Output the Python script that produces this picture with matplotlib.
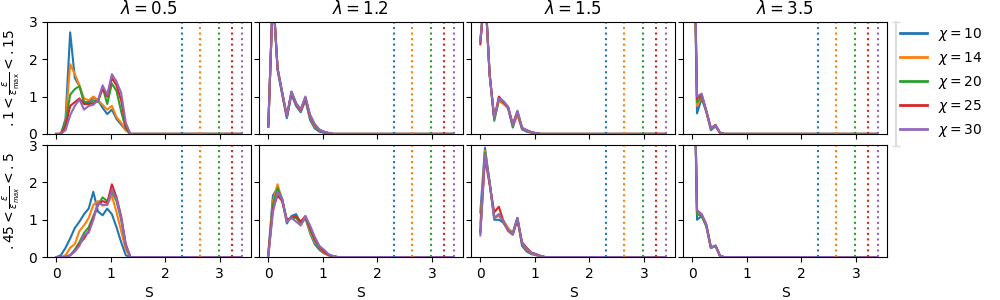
import matplotlib
matplotlib.use("Agg")
import matplotlib.pyplot as plt
import numpy as np
from matplotlib.lines import Line2D

# S bins (0 .. 3.4, step 0.085)
S = np.round(np.arange(41) * 0.085, 3)

lambdas = ["0.5", "1.2", "1.5", "3.5"]
chis = [10, 14, 20, 25, 30]
colors = ["#1f77b4", "#ff7f0e", "#2ca02c", "#d62728", "#9467bd"]
chi_limits = [2.30, 2.64, 2.99, 3.22, 3.40]

# row 1: .1 < eps/eps_max < .15   (one list per chi, leading values; rest is zero)
top_05 = [
    [0, 0, 0.4, 2.72, 1.5, 1.28, 0.85, 0.85, 0.98, 0.9, 0.7, 0.53, 0.65, 0.4, 0.25, 0.1, 0],
    [0, 0, 0.3, 1.87, 1.6, 1.3, 0.95, 0.9, 1.0, 0.9, 0.78, 0.65, 0.75, 0.45, 0.3, 0.1, 0],
    [0, 0, 0.3, 1.05, 1.2, 1.28, 0.85, 0.8, 0.9, 0.85, 1.25, 0.8, 1.35, 1.15, 0.6, 0.15, 0],
    [0, 0, 0.2, 0.75, 0.85, 0.95, 0.8, 0.8, 0.82, 0.9, 1.2, 1.0, 1.5, 1.3, 0.9, 0.2, 0],
    [0, 0, 0.1, 0.5, 0.75, 0.92, 0.65, 0.75, 0.78, 0.9, 1.3, 1.05, 1.6, 1.4, 1.1, 0.3, 0],
]
top_12 = [
    [0.2, 3.8, 1.7, 1.05, 0.42, 1.05, 0.75, 0.58, 0.9, 0.38, 0.15, 0.06, 0.03, 0.01, 0],
    [0.2, 3.8, 1.75, 1.1, 0.45, 1.1, 0.8, 0.62, 0.95, 0.45, 0.2, 0.09, 0.05, 0.02, 0],
    [0.2, 3.8, 1.75, 1.1, 0.48, 1.13, 0.82, 0.65, 0.98, 0.48, 0.24, 0.1, 0.05, 0.02, 0],
    [0.2, 3.8, 1.75, 1.1, 0.46, 1.12, 0.8, 0.64, 0.97, 0.5, 0.25, 0.11, 0.06, 0.02, 0],
    [0.2, 3.8, 1.75, 1.12, 0.47, 1.13, 0.82, 0.66, 1.0, 0.52, 0.27, 0.12, 0.06, 0.03, 0],
]
top_15 = [
    [2.48, 3.9, 1.6, 0.4, 0.9, 0.82, 0.68, 0.17, 0.55, 0.12, 0.06, 0.03, 0.01, 0],
    [2.48, 3.9, 1.6, 0.42, 0.88, 0.8, 0.7, 0.22, 0.5, 0.14, 0.08, 0.04, 0.02, 0],
    [2.48, 3.9, 1.6, 0.35, 0.95, 0.85, 0.7, 0.22, 0.6, 0.15, 0.09, 0.04, 0.02, 0],
    [2.4, 3.9, 1.6, 0.42, 1.0, 0.85, 0.72, 0.25, 0.6, 0.16, 0.1, 0.05, 0.02, 0],
    [2.48, 3.9, 1.6, 0.42, 0.95, 0.88, 0.72, 0.25, 0.62, 0.17, 0.1, 0.05, 0.02, 0],
]
top_35 = [
    [8.0, 0.55, 0.95, 0.6, 0.1, 0.2, 0.02, 0],
    [8.0, 0.75, 1.0, 0.6, 0.12, 0.22, 0.02, 0],
    [8.0, 0.85, 1.0, 0.6, 0.13, 0.22, 0.02, 0],
    [8.0, 0.95, 1.05, 0.62, 0.16, 0.24, 0.02, 0],
    [8.0, 1.0, 1.08, 0.62, 0.15, 0.23, 0.02, 0],
]

# row 2: .45 < eps/eps_max < .5
bot_05 = [
    [0, 0.05, 0.25, 0.5, 0.78, 0.95, 1.15, 1.3, 1.75, 1.22, 1.12, 1.3, 1.15, 0.8, 0.4, 0.05, 0],
    [0, 0, 0.05, 0.25, 0.35, 0.7, 0.85, 1.05, 1.4, 1.5, 1.38, 1.4, 1.65, 1.2, 0.7, 0.2, 0],
    [0, 0, 0, 0.05, 0.2, 0.4, 0.65, 0.8, 1.1, 1.4, 1.6, 1.5, 1.75, 1.5, 1.0, 0.3, 0],
    [0, 0, 0, 0.05, 0.15, 0.35, 0.5, 0.7, 1.05, 1.4, 1.5, 1.45, 1.95, 1.6, 1.1, 0.35, 0],
    [0, 0, 0, 0.05, 0.15, 0.3, 0.6, 0.65, 1.0, 1.45, 1.4, 1.4, 1.8, 1.55, 1.05, 0.3, 0],
]
bot_12 = [
    [0.1, 1.65, 1.85, 1.55, 0.9, 1.1, 1.15, 0.9, 1.05, 0.65, 0.35, 0.2, 0.1, 0.05, 0.02, 0],
    [0.05, 1.5, 1.95, 1.5, 0.95, 1.05, 1.1, 0.85, 1.05, 0.7, 0.4, 0.25, 0.12, 0.05, 0.02, 0],
    [0.05, 1.4, 1.85, 1.55, 1.0, 1.05, 1.05, 0.9, 1.05, 0.75, 0.45, 0.25, 0.15, 0.06, 0.02, 0],
    [0.05, 1.3, 1.65, 1.5, 1.0, 1.05, 1.1, 0.95, 1.1, 0.8, 0.5, 0.3, 0.15, 0.06, 0.02, 0],
    [0.02, 1.2, 1.75, 1.55, 0.95, 1.05, 0.95, 0.85, 1.1, 0.85, 0.55, 0.3, 0.2, 0.08, 0.03, 0],
]
bot_15 = [
    [1.2, 2.93, 2.0, 1.0, 1.0, 0.92, 0.72, 0.62, 1.05, 0.3, 0.15, 0.08, 0.05, 0.02, 0],
    [0.9, 2.85, 2.0, 1.05, 1.1, 0.98, 0.78, 0.65, 1.0, 0.35, 0.2, 0.1, 0.06, 0.03, 0],
    [0.7, 2.8, 2.0, 1.05, 1.15, 0.92, 0.72, 0.65, 1.05, 0.35, 0.22, 0.12, 0.08, 0.03, 0],
    [0.65, 2.65, 1.95, 1.2, 1.35, 0.95, 0.7, 0.6, 1.0, 0.4, 0.25, 0.12, 0.08, 0.03, 0],
    [0.58, 2.75, 2.0, 1.05, 1.15, 0.95, 0.72, 0.62, 1.05, 0.38, 0.22, 0.12, 0.07, 0.03, 0],
]
bot_35 = [
    [8.0, 1.0, 1.1, 0.85, 0.25, 0.3, 0.02, 0],
    [8.0, 1.2, 1.12, 0.85, 0.25, 0.3, 0.02, 0],
    [8.0, 1.15, 1.1, 0.82, 0.24, 0.3, 0.02, 0],
    [8.0, 1.25, 1.15, 0.88, 0.26, 0.31, 0.02, 0],
    [8.0, 1.25, 1.15, 0.85, 0.25, 0.3, 0.02, 0],
]

rows = [[top_05, top_12, top_15, top_35], [bot_05, bot_12, bot_15, bot_35]]
row_labels = [r"$.1 < \frac{\varepsilon}{\varepsilon_\mathrm{max}} < .15$",
              r"$.45 < \frac{\varepsilon}{\varepsilon_{max}} < .5$"]


def pad(vals):
    out = np.zeros(len(S))
    out[:len(vals)] = vals
    return out


fig, axes = plt.subplots(2, 4, figsize=(10, 3), dpi=100, sharex=True, sharey=True)
fig.subplots_adjust(left=0.047, right=0.887, top=0.927, bottom=0.143, wspace=0.04, hspace=0.1)

for r, row in enumerate(rows):
    for c, panel in enumerate(row):
        ax = axes[r, c]
        for series, col in zip(panel, colors):
            ax.plot(S, pad(series), color=col, lw=1.5)
        for lim, col in zip(chi_limits, colors):
            ax.axvline(lim, color=col, ls=":", lw=1.5)
        ax.set_ylim(0, 3)
        ax.set_yticks([0, 1, 2, 3])
        ax.set_xticks([0, 1, 2, 3])
        if r == 0:
            ax.set_title(r"$\lambda = %s$" % lambdas[c])
        else:
            ax.set_xlabel("S")
    axes[r, 0].set_ylabel(row_labels[r])

handles = [Line2D([], [], color=col, lw=2) for col in colors]
labels = [r"$\chi = %d$" % x for x in chis]
fig.legend(handles, labels, loc="center left", bbox_to_anchor=(0.894, 0.725),
           frameon=False, borderaxespad=0, handlelength=2.0)

# light bracket next to the legend
fig.add_artist(Line2D([0.896, 0.896], [0.927, 0.513], transform=fig.transFigure,
                      color="#dddddd", lw=1.5, marker="_", markersize=6))

fig.savefig("out.png", dpi=100)
